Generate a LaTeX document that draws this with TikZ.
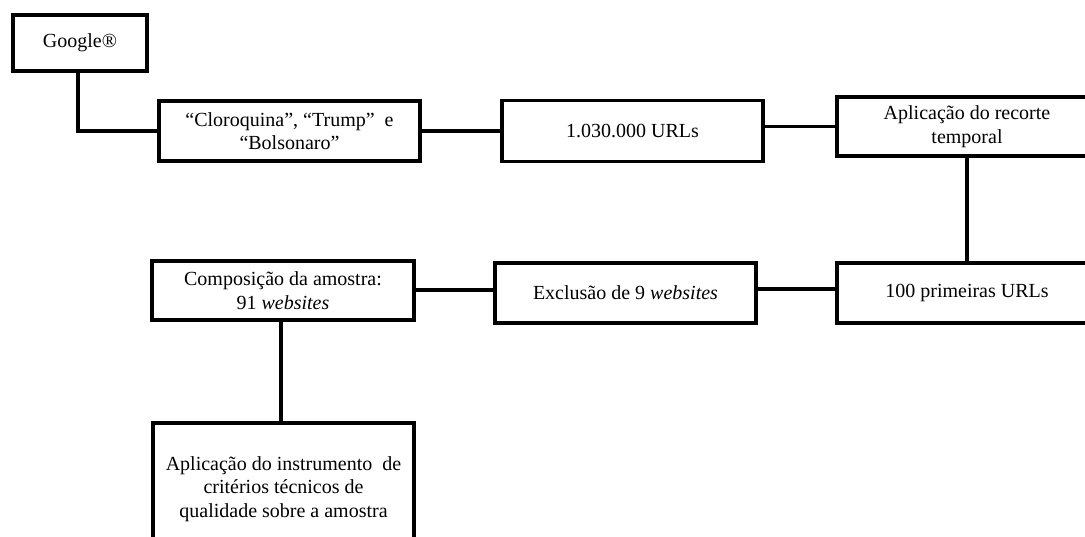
\documentclass[tikz,border=0pt]{standalone}
\usepackage{fontspec}
\setmainfont{Liberation Serif}
\begin{document}
\begin{tikzpicture}[x=1pt,y=-1pt,
  box/.style={draw=black, line width=3.4pt, fill=white, rectangle, inner sep=0pt, align=center, font=\fontsize{20}{23.5}\selectfont},
  link/.style={draw=black, line width=3.4pt}]
\useasboundingbox (0,0) rectangle (1085,537);
\clip (0,0) rectangle (1085,537);
\fill[white] (0,0) rectangle (1085,537);
\node[box, minimum width=134pt, minimum height=56pt] (google) at (80,43) {Google®};
\node[box, minimum width=261pt, minimum height=60pt] (cloro) at (289.5,131) {“Cloroquina”, “Trump”\ \ e\\“Bolsonaro”};
\node[box, minimum width=261pt, minimum height=61pt] (urls) at (632.5,131) {1.030.000 URLs};
\node[box, minimum width=260pt, minimum height=59pt] (recorte) at (967,126.5) {Aplicação do recorte\\temporal};
\node[box, minimum width=260pt, minimum height=60pt] (cem) at (967,293) {100 primeiras URLs};
\node[box, minimum width=261pt, minimum height=60pt] (excl) at (625.5,293) {Exclusão de 9 \textit{websites}};
\node[box, minimum width=262pt, minimum height=59pt] (comp) at (283,290.5) {Composição da amostra:\\91 \textit{websites}};
\node[box, minimum width=261pt, minimum height=132pt] (instr) at (283.5,489) {Aplicação do instrumento\ \ de\\critérios técnicos de\\qualidade sobre a amostra};
\draw[link] (google.south -| 78,0) |- (cloro.west);
\draw[link] (cloro.east) -- (urls.west);
\draw[link] (urls.east |- recorte.west) -- (recorte.west);
\draw[link] (recorte.south) -- (cem.north);
\draw[link] (cem.west |- 0,289) -- (excl.east |- 0,289);
\draw[link] (excl.west |- 0,290) -- (comp.east |- 0,290);
\draw[link] (comp.south -| 281,0) -- (instr.north -| 281,0);
\end{tikzpicture}
\end{document}
